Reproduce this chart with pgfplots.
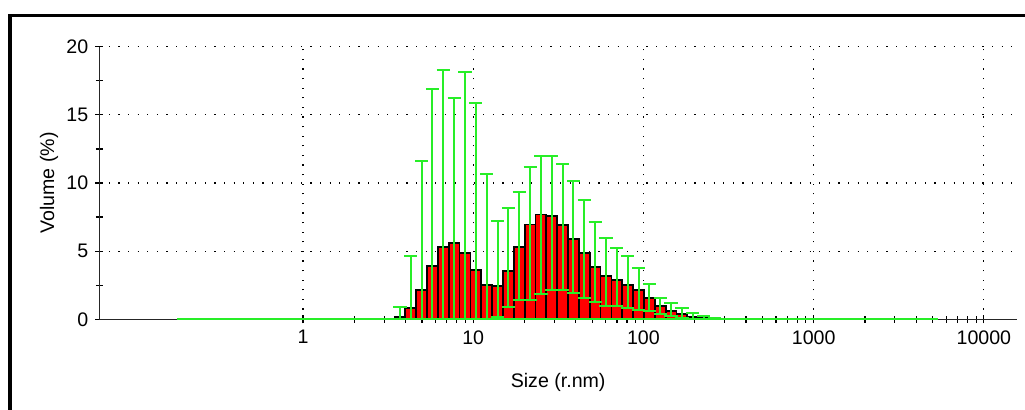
\documentclass[border=0pt]{standalone}
\usepackage{pgfplots}
\pgfplotsset{compat=1.18}
\usepackage{pgfplotstable}
\usepackage{fontspec}
\setmainfont{Liberation Sans}
\definecolor{errgreen}{RGB}{40,238,40}
\definecolor{barred}{RGB}{255,0,0}

% bin edges (lower edge of each class) and bar height
\pgfplotstableread{
x h
3.449 0.19
3.995 0.85
4.627 2.15
5.357 3.93
6.204 5.33
7.184 5.62
8.318 4.89
9.632 3.64
11.155 2.52
12.917 2.45
14.958 3.57
17.322 5.33
20.06 6.95
23.23 7.69
26.89 7.58
31.14 6.92
36.06 5.89
41.77 4.86
48.36 3.84
56.01 3.18
64.86 2.88
75.10 2.52
86.97 2.14
100.71 1.56
116.63 1.00
135.06 0.63
156.40 0.37
181.10 0.19
209.71 0.10
242.84 0.03
281.21 0
}\bars

% class centres with upper and lower ends of the error bars
\pgfplotstableread{
x up lo
3.712 0.92 0
4.299 4.67 0
4.979 11.64 0
5.765 16.90 0
6.676 18.29 0
7.731 16.24 0
8.951 18.12 0
10.365 15.87 0
12.004 10.68 0
13.900 7.22 0.17
16.096 8.17 0.93
18.640 9.36 1.40
21.587 11.17 1.40
24.998 12.00 1.86
28.936 12.00 2.13
33.510 11.37 2.13
38.804 10.12 1.95
44.949 8.73 1.59
52.040 7.14 1.29
60.273 5.99 1.00
69.796 5.25 0.95
80.815 4.67 0.85
93.588 3.75 0.69
108.37 2.61 0.58
125.51 1.59 0.38
145.34 1.21 0.27
168.30 0.83 0.12
194.88 0.44 0.04
225.66 0.24 0
261.39 0.07 0
}\errs

\begin{document}
\begin{tikzpicture}
\useasboundingbox (-49.65pt,-45.35pt) rectangle (462.85pt,159.65pt);
\draw[line width=1.6pt] (470pt,151.8pt) -- (-44.65pt,151.8pt) -- (-44.65pt,-60pt);
\begin{axis}[
  at={(0pt,0pt)}, anchor=south west,
  scale only axis, width=458.85pt, height=136.3pt,
  xmode=log, xmin=0.0636, xmax=15650, ymin=0, ymax=20,
  axis x line*=bottom, axis y line*=left,
  axis line style={line width=0.7pt, black!85},
  xtick={1,10,100,1000,10000}, xticklabels={1,10,100,1000,10000},
  minor xtick={2,3,4,5,6,7,8,9,20,30,40,50,60,70,80,90,200,300,400,500,600,700,800,900,2000,3000,4000,5000,6000,7000,8000,9000},
  ytick={0,5,10,15,20}, minor ytick={2.5,7.5,12.5,17.5},
  grid=major,
  major grid style={black, line width=0.6pt, dash pattern=on 0.6pt off 4.2pt},
  minor grid style={draw=none},
  tick align=center, major tick length=4pt, minor tick length=3.5pt,
  every tick/.style={black, line width=0.6pt},
  ticklabel style={font=\fontsize{9.8}{11}\selectfont},
  /pgf/number format/assume math mode=true,
  xlabel={Size (r.nm)}, ylabel={Volume (\%)},
  label style={font=\fontsize{9.8}{11}\selectfont},
  xlabel style={at={(axis description cs:0.5,-0.23)}, anchor=center},
  ylabel style={at={(axis description cs:-0.0548,0.5)}, anchor=center},
  clip=false,
]
\addplot[ybar interval, fill=barred, draw=black, line width=0.9pt] table[x=x, y=h] \bars;
\addplot[errgreen, line width=0.8pt, mark=none] coordinates {(0.1815,0) (5410,0)};
\addplot[draw=none, mark=none,
  error bars/.cd, y dir=both, y explicit, error mark=|,
  error bar style={draw=errgreen, line width=1pt},
  error mark options={draw=errgreen, line width=1pt, mark size=3.3pt}]
  table[x=x, y expr={(\thisrow{up}+\thisrow{lo})/2}, y error expr={(\thisrow{up}-\thisrow{lo})/2}] \errs;
\end{axis}
\end{tikzpicture}
\end{document}
